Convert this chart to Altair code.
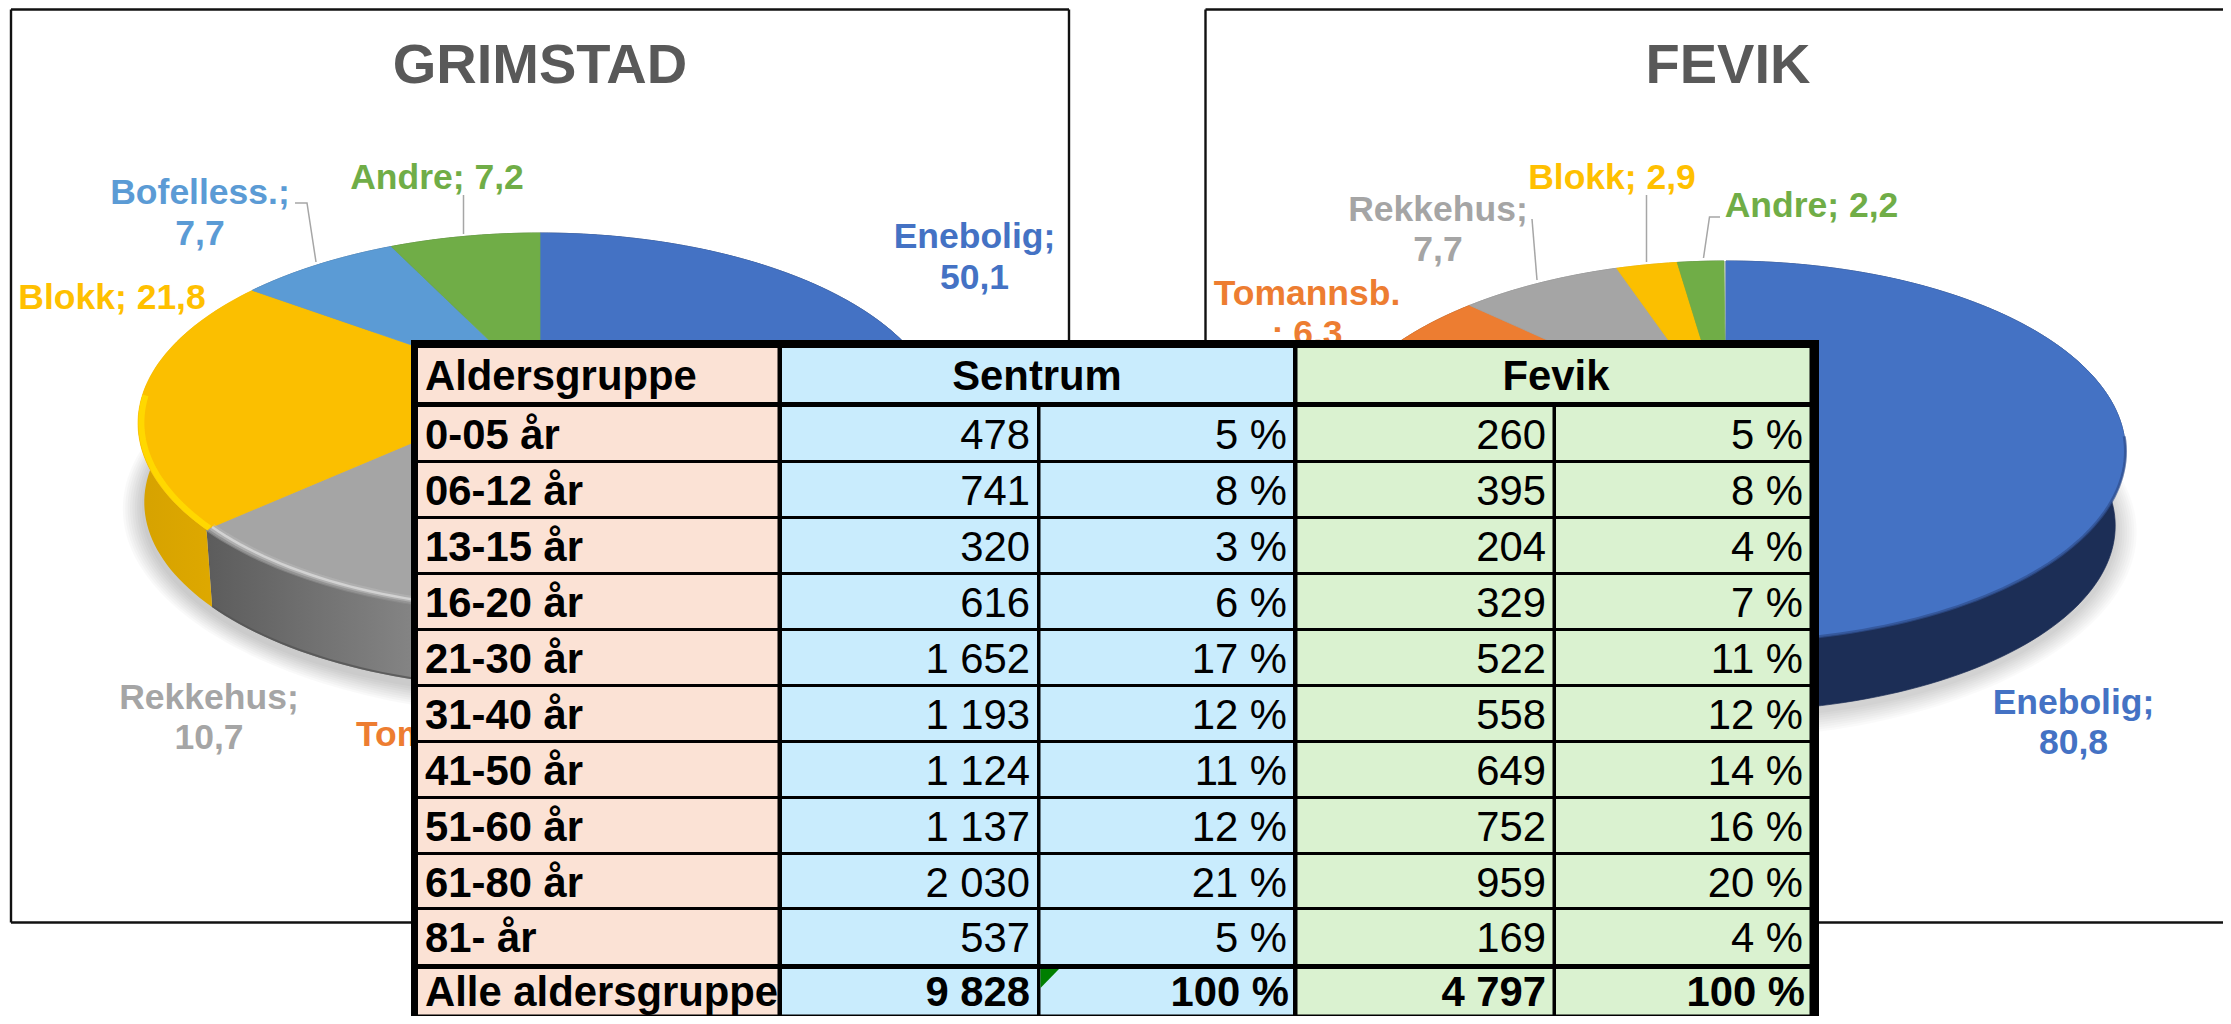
import math
import altair as alt
import pandas as pd

# ---------- values ----------
grimstad_cats = ["Enebolig", "Tomannsb.", "Rekkehus", "Blokk", "Bofelless.", "Andre"]
grimstad_vals = [50.1, 2.5, 10.7, 21.8, 7.7, 7.2]
fevik_cats = ["Enebolig", "Tomannsb.", "Rekkehus", "Blokk", "Andre"]
fevik_vals = [80.8, 6.3, 7.7, 2.9, 2.2]

age_groups = ["0-05 år", "06-12 år", "13-15 år", "16-20 år", "21-30 år", "31-40 år",
              "41-50 år", "51-60 år", "61-80 år", "81- år"]
sentrum_n = ["478", "741", "320", "616", "1 652", "1 193", "1 124", "1 137", "2 030", "537"]
sentrum_p = ["5 %", "8 %", "3 %", "6 %", "17 %", "12 %", "11 %", "12 %", "21 %", "5 %"]
fevik_n = ["260", "395", "204", "329", "522", "558", "649", "752", "959", "169"]
fevik_p = ["5 %", "8 %", "4 %", "7 %", "11 %", "12 %", "14 %", "16 %", "20 %", "4 %"]
total_row = ["Alle aldersgruppe", "9 828", "100 %", "4 797", "100 %"]

# ---------- styling ----------
FONT = "Liberation Sans"
face_col = {"Enebolig": "#4472C4", "Tomannsb.": "#ED7D31", "Rekkehus": "#A5A5A5",
            "Blokk": "#FBBF00", "Bofelless.": "#5B9BD5", "Andre": "#70AD47"}
wall_col = {"Enebolig": "#1C2E56", "Tomannsb.": "#8F4A1B", "Rekkehus": "#777777",
            "Blokk": "#D8A400", "Bofelless.": "#355F85", "Andre": "#43692A"}

X_MAX, Y_MAX = 2223, 1016
X = alt.X("x:Q", axis=None, scale=alt.Scale(domain=[8, X_MAX], range=[0, X_MAX - 8], nice=False, zero=False))
Y = alt.Y("y:Q", axis=None, scale=alt.Scale(domain=[8, Y_MAX], range=[0, Y_MAX - 8], nice=False, zero=False))
X2 = alt.X2("x2:Q")
Y2 = alt.Y2("y2:Q")
PROJ = dict(type="identity", scale=1, translate=[-8, -8])


# ---------- pie geometry: a tilted disc in perspective ----------
class Disc:
    def __init__(self, cx, cy, half_w, top_h, k, wall, base_s):
        self.cx, self.cy, self.b, self.a, self.k = cx, cy, half_w, top_h * (1 + k), k
        self.wall, self.base_s = wall, base_s

    def pt(self, deg, s=1.0, dy=0.0):
        t = math.radians(deg)
        u, v = math.sin(t) * s, math.cos(t) * s
        d = 1 + self.k * v
        return [self.cx + self.b * u / d, self.cy - self.a * v / d + dy]

    def arc(self, t0, t1, s=1.0, dy=0.0):
        n = max(2, int(abs(t1 - t0) / 1.5) + 1)
        return [self.pt(t0 + (t1 - t0) * i / n, s, dy) for i in range(n + 1)]


def feature(geom_type, coords, **props):
    return {"type": "Feature", "geometry": {"type": geom_type, "coordinates": coords}, "properties": props}


def spans(vals):
    tot, out = 0.0, []
    for v in vals:
        out.append((tot * 3.6, (tot + v) * 3.6))
        tot += v
    return out


def face_features(disc, cats, vals):
    res = []
    for c, (t0, t1) in zip(cats, spans(vals)):
        ring = [[disc.cx, disc.cy]] + disc.arc(t0, t1) + [[disc.cx, disc.cy]]
        res.append(feature("Polygon", [ring], fill=face_col[c], cat=c))
    return res


def wall_features(disc, cats, vals, skip=()):
    res = []
    for c, (t0, t1) in zip(cats, spans(vals)):
        if c in skip:
            continue
        top = disc.arc(t0, t1)
        base = disc.arc(t0, t1, disc.base_s, disc.wall)[::-1]
        res.append(feature("Polygon", [top + base + [top[0]]], fill=wall_col[c], cat=c))
    return res


def shadow_features(disc):
    res = []
    for i in range(9, 0, -1):
        g = i * 2.4
        ring = []
        for p in disc.arc(0, 360, disc.base_s, disc.wall + 5):
            ex, ey = p[0] - disc.cx, p[1] - (disc.cy + disc.wall)
            r = math.hypot(ex, ey)
            ring.append([p[0] + ex / r * g, p[1] + ey / r * g])
        res.append(feature("Polygon", [ring + [ring[0]]], fill="#000000"))
    return res


grim = Disc(540, 389, 395.4, 156, 0.18, 80, 0.985)
fev = Disc(1726, 420, 394, 159, 0.165, 76, 0.975)


def geo(features, **mark):
    return alt.Chart(alt.Data(values=features)).mark_geoshape(**mark).project(**PROJ)


def geo_filled(features):
    return geo(features, strokeWidth=0.7).encode(fill=alt.Fill("properties.fill:N", scale=None),
                                                 stroke=alt.Stroke("properties.fill:N", scale=None))


def gradient(c0, c1):
    return alt.LinearGradient(gradient="linear", x1=0, x2=1, y1=0, y2=0,
                              stops=[alt.GradientStop(color=c0, offset=0), alt.GradientStop(color=c1, offset=1)])


grim_span = dict(zip(grimstad_cats, spans(grimstad_vals)))
g_gray = grim_span["Rekkehus"]
g_yel = grim_span["Blokk"]


def top_arc(disc, t0, t1, s=1.0, dy=0.0):
    return [feature("LineString", disc.arc(t0, t1, s, dy))]


def wall_one(disc, span):
    top = disc.arc(*span)
    base = disc.arc(span[0], span[1], disc.base_s, disc.wall)[::-1]
    return [feature("Polygon", [top + base + [top[0]]])]


pie_layers = [
    geo(shadow_features(grim), strokeWidth=0, fill="#000000", fillOpacity=0.022),
    geo(shadow_features(fev), strokeWidth=0, fill="#000000", fillOpacity=0.02),
    geo_filled(wall_features(grim, grimstad_cats, grimstad_vals, skip=("Rekkehus", "Blokk"))),
    geo(wall_one(grim, g_gray), strokeWidth=0, fill=gradient("#5C5C5C", "#8E8E8E")),
    geo(wall_one(grim, g_yel), strokeWidth=0, fill=gradient("#D6A200", "#E2AC00")),
    geo(top_arc(grim, g_gray[1], g_gray[0], grim.base_s, grim.wall - 1), filled=False,
        stroke="#555555", strokeWidth=2, strokeOpacity=0.8),
    geo_filled(wall_features(fev, fevik_cats, fevik_vals)),
    geo_filled(face_features(grim, grimstad_cats, grimstad_vals)),
    geo_filled(face_features(fev, fevik_cats, fevik_vals)),
    # soft bevel along the front edge
    geo(top_arc(grim, g_gray[1], g_gray[0], 0.985), filled=False, stroke="#C4C4C4", strokeWidth=7, strokeOpacity=0.35),
    geo(top_arc(grim, g_gray[1], g_gray[0], 0.985), filled=False, stroke="#D2D2D2", strokeWidth=2.5),
    geo(top_arc(grim, g_gray[1], g_gray[0], 1.0), filled=False, stroke="#8C8C8C", strokeWidth=3, strokeOpacity=0.7),
    geo(top_arc(grim, g_yel[0], 268, 0.992), filled=False, stroke="#FFD800", strokeWidth=6),
    geo(top_arc(fev, 95, 200, 1.0), filled=False, stroke="#2F4F8F", strokeWidth=3, strokeOpacity=0.7),
]

# ---------- frames and leader lines ----------
frames = pd.DataFrame({
    "x":  [11, 11, 1069, 11, 1205.5, 1205.5, 1205.5],
    "x2": [1069, 11, 1069, 1069, X_MAX, 1205.5, X_MAX],
    "y":  [9.5, 9.5, 9.5, 922.5, 9.5, 9.5, 922.5],
    "y2": [9.5, 922.5, 922.5, 922.5, 9.5, 922.5, 922.5],
})
frame_layer = alt.Chart(frames).mark_rule(color="#111111", strokeWidth=2.4).encode(x=X, x2=X2, y=Y, y2=Y2)

leaders = pd.DataFrame({
    "id": ["a", "a", "a", "b", "b", "c", "c", "d", "d", "e", "e", "e"],
    "i":  [0, 1, 2, 0, 1, 0, 1, 0, 1, 0, 1, 2],
    "x":  [295, 307, 316, 463.5, 463.5, 1532, 1537, 1646.5, 1646.5, 1720, 1709.5, 1703.5],
    "y":  [203, 203, 262, 195, 234, 219, 280, 195, 262, 217, 217, 258],
})
leader_layer = alt.Chart(leaders).mark_line(color="#A6A6A6", strokeWidth=1.5).encode(
    x=X, y=Y, detail="id:N", order="i:Q")


# ---------- text ----------
def text_layer(rows, align="center", size=35.5, weight="bold"):
    df = pd.DataFrame(rows, columns=["x", "y", "t", "c"])
    return alt.Chart(df).mark_text(font=FONT, fontSize=size, fontWeight=weight, align=align,
                                   baseline="alphabetic").encode(
        x=X, y=Y, text="t:N", color=alt.Color("c:N", scale=None))


c = face_col
lab_center = [
    [974.5, 247.5, "Enebolig;", c["Enebolig"]], [974.5, 289, "50,1", c["Enebolig"]],
    [200, 204, "Bofelless.;", c["Bofelless."]], [200, 245, "7,7", c["Bofelless."]],
    [437, 189, f"Andre; {str(grimstad_vals[5]).replace('.', ',')}", c["Andre"]],
    [112, 309, f"Blokk; {str(grimstad_vals[3]).replace('.', ',')}", "#FFC000"],
    [209, 709, "Rekkehus;", c["Rekkehus"]], [209, 749, "10,7", c["Rekkehus"]],
    [1612, 189, f"Blokk; {str(fevik_vals[3]).replace('.', ',')}", "#FFC000"],
    [1438, 220.5, "Rekkehus;", c["Rekkehus"]], [1438, 261, "7,7", c["Rekkehus"]],
    [1811.5, 217, f"Andre; {str(fevik_vals[4]).replace('.', ',')}", c["Andre"]],
    [1307, 304.5, "Tomannsb.", c["Tomannsb."]], [1307, 345, "; 6,3", c["Tomannsb."]],
    [2073.5, 713.5, "Enebolig;", c["Enebolig"]], [2073.5, 754, "80,8", c["Enebolig"]],
]
lab_left = [[356, 746, "Tomannsb.; 2,5", c["Tomannsb."]]]
titles = [[540, 82.5, "GRIMSTAD", "#595959"], [1728, 82.5, "FEVIK", "#595959"]]

# ---------- table ----------
row_tops = [407, 463, 519, 575, 631, 687, 743, 799, 855, 910]
row_bots = [460, 516, 572, 628, 684, 740, 796, 852, 907, 964]
PEACH, BLUE, GREEN = "#FBE2D5", "#C9ECFD", "#DAF2D0"
cols = [(418, 777.5, PEACH), (782, 1037, BLUE), (1040.5, 1293, BLUE), (1297.5, 1552.5, GREEN), (1556, 1809.5, GREEN)]

cells = [dict(x=411, x2=1819, y=340, y2=Y_MAX, f="#000000")]
cells += [dict(x=418, x2=777.5, y=348, y2=402, f=PEACH), dict(x=782, x2=1293, y=348, y2=402, f=BLUE),
          dict(x=1297.5, x2=1809.5, y=348, y2=402, f=GREEN)]
for top, bot in list(zip(row_tops, row_bots)) + [(969, Y_MAX - 1.5)]:
    for l, r, f in cols:
        cells.append(dict(x=l, x2=r, y=top, y2=bot, f=f))
cell_layer = alt.Chart(pd.DataFrame(cells)).mark_rect(strokeWidth=0).encode(
    x=X, x2=X2, y=Y, y2=Y2, fill=alt.Fill("f:N", scale=None))

triangle = geo([feature("Polygon", [[[1040.5, 969], [1059, 969], [1040.5, 988], [1040.5, 969]]])],
               strokeWidth=0, fill="#007F00")

TS = 41.8
TOT_BASE = 1005.5
head_left = [[425, 390, "Aldersgruppe", "#000000"]]
head_mid = [[1037, 390, "Sentrum", "#000000"], [1556, 390, "Fevik", "#000000"]]
body_left, body_right = [], []
for i, top in enumerate(row_tops):
    base = top + 41.7
    body_left.append([425, base, age_groups[i], "#000000"])
    body_right += [[1030, base, sentrum_n[i], "#000000"], [1287, base, sentrum_p[i], "#000000"],
                   [1546, base, fevik_n[i], "#000000"], [1803, base, fevik_p[i], "#000000"]]
tot_left = [[425, TOT_BASE, total_row[0], "#000000"]]
tot_right = [[1030, TOT_BASE, total_row[1], "#000000"], [1289, TOT_BASE, total_row[2], "#000000"],
             [1546, TOT_BASE, total_row[3], "#000000"], [1805, TOT_BASE, total_row[4], "#000000"]]

chart = alt.layer(
    frame_layer,
    *pie_layers,
    leader_layer,
    text_layer(titles, size=56),
    text_layer(lab_center),
    text_layer(lab_left, align="left"),
    cell_layer,
    triangle,
    text_layer(head_left, align="left", size=TS),
    text_layer(head_mid, size=TS),
    text_layer(body_left, align="left", size=TS),
    text_layer(body_right, align="right", size=TS, weight="normal"),
    text_layer(tot_left, align="left", size=TS),
    text_layer(tot_right, align="right", size=TS),
).properties(width=X_MAX - 8, height=Y_MAX - 8, padding=0, background="white",
             autosize=alt.AutoSizeParams(type="none", contains="padding")).configure_view(stroke=None)

chart.save("out.html", embed_options={"renderer": "svg", "actions": False})
